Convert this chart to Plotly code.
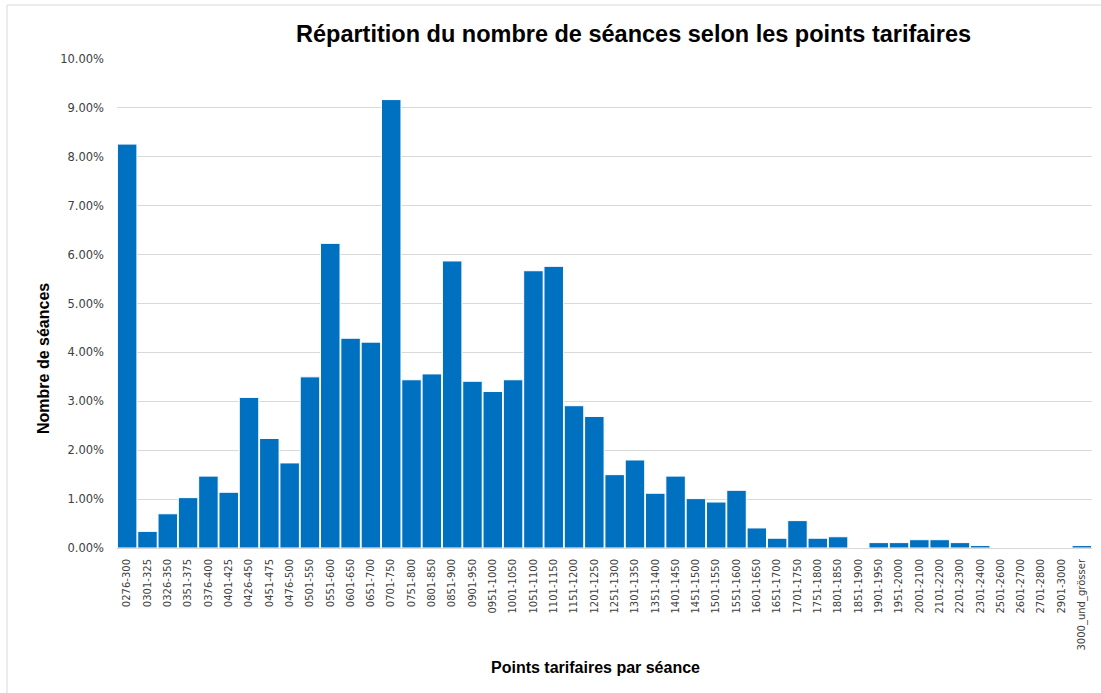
import plotly.graph_objects as go

categories = [
    "0276-300", "0301-325", "0326-350", "0351-375", "0376-400", "0401-425",
    "0426-450", "0451-475", "0476-500", "0501-550", "0551-600", "0601-650",
    "0651-700", "0701-750", "0751-800", "0801-850", "0851-900", "0901-950",
    "0951-1000", "1001-1050", "1051-1100", "1101-1150", "1151-1200", "1201-1250",
    "1251-1300", "1301-1350", "1351-1400", "1401-1450", "1451-1500", "1501-1550",
    "1551-1600", "1601-1650", "1651-1700", "1701-1750", "1751-1800", "1801-1850",
    "1851-1900", "1901-1950", "1951-2000", "2001-2100", "2101-2200", "2201-2300",
    "2301-2400", "2501-2600", "2601-2700", "2701-2800", "2901-3000", "3000_und_grösser",
]

shares_pct = [
    8.26, 0.34, 0.70, 1.03, 1.47, 1.14,
    3.08, 2.24, 1.74, 3.50, 6.23, 4.29,
    4.21, 9.17, 3.44, 3.56, 5.87, 3.41,
    3.20, 3.44, 5.67, 5.76, 2.91, 2.69,
    1.50, 1.80, 1.12, 1.47, 1.01, 0.94,
    1.18, 0.41, 0.20, 0.56, 0.20, 0.23,
    0.00, 0.11, 0.11, 0.17, 0.17, 0.11,
    0.05, 0.00, 0.00, 0.00, 0.00, 0.05,
]
values = [v / 100 for v in shares_pct]

title_text = "Répartition du nombre de séances selon les points tarifaires"
x_title = "Points tarifaires par séance"
y_title = "Nombre de séances"

fig = go.Figure()
fig.add_trace(go.Bar(
    x=categories,
    y=values,
    marker=dict(color="#0070C0", line=dict(color="#ffffff", width=1)),
    hoverinfo="x+y",
))

W, H = 1101, 693
L, R, T, B = 117, 9, 59, 145
pw, ph = W - L - R, H - T - B

def px_x(p):
    return (p - L) / pw

def px_y(p):
    return (H - B - p) / ph

fig.update_layout(
    width=W, height=H,
    autosize=False,
    margin=dict(l=L, r=R, t=T, b=B, pad=0),
    paper_bgcolor="white",
    plot_bgcolor="white",
    bargap=0.04,
    showlegend=False,
    font=dict(family="DejaVu Sans", color="#595959", size=10),
    xaxis=dict(
        type="category",
        tickangle=-90,
        tickfont=dict(family="DejaVu Sans", size=10, color="#404040"),
        showline=True, linecolor="#d9d9d9", linewidth=1,
        showgrid=False, ticks="", ticklabelstandoff=6,
    ),
    yaxis=dict(
        range=[0, 0.10],
        dtick=0.01,
        tickformat=".2%",
        tickfont=dict(family="DejaVu Sans", size=11.5, color="#404040"),
        showgrid=True, gridcolor="#d9d9d9", gridwidth=1,
        zeroline=False, showline=False, ticks="",
        ticklabelstandoff=12,
    ),
    annotations=[
        dict(text="<b>" + title_text + "</b>", xref="paper", yref="paper",
             x=px_x(633), y=px_y(34), xanchor="center", yanchor="middle",
             showarrow=False, font=dict(family="Liberation Sans", size=23.5, color="#000000")),
        dict(text="<b>" + x_title + "</b>", xref="paper", yref="paper",
             x=px_x(595), y=px_y(667), xanchor="center", yanchor="middle",
             showarrow=False, font=dict(family="Liberation Sans", size=16, color="#000000")),
        dict(text="<b>" + y_title + "</b>", xref="paper", yref="paper",
             x=px_x(43), y=px_y(359), xanchor="center", yanchor="middle",
             textangle=-90,
             showarrow=False, font=dict(family="Liberation Sans", size=16, color="#000000")),
    ],
    shapes=[
        dict(type="rect", xref="paper", yref="paper",
             x0=px_x(7), x1=px_x(1110), y0=px_y(5), y1=px_y(710),
             line=dict(color="#d9d9d9", width=1), fillcolor="rgba(0,0,0,0)", layer="below"),
    ],
)

fig.write_html(
    "out.html",
    config={"displayModeBar": False},
    post_script="document.body.style.margin='0px';document.body.style.overflow='hidden';",
)
